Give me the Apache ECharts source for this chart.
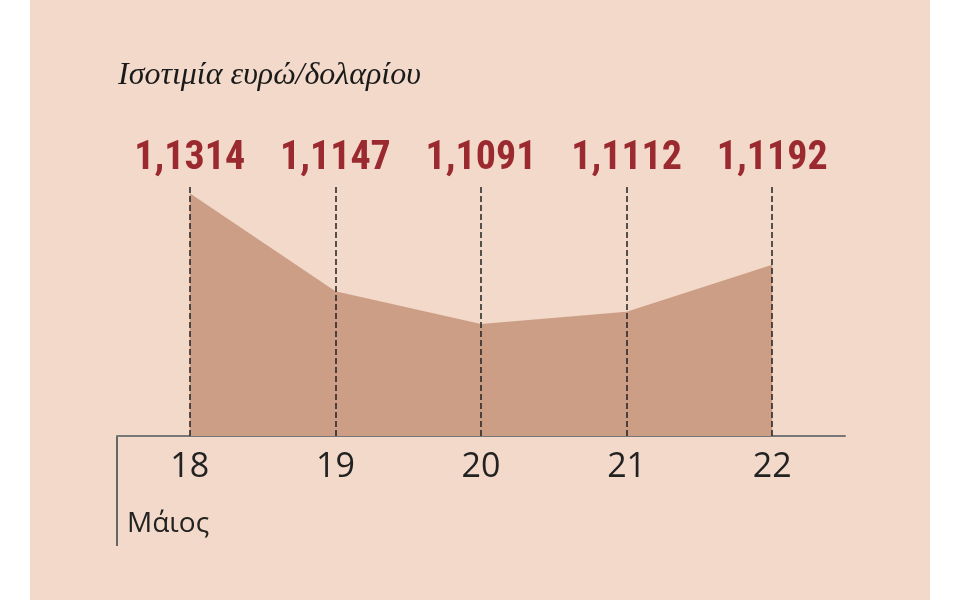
<!DOCTYPE html>
<html><head><meta charset="utf-8">
<script src="https://cdn.jsdelivr.net/npm/echarts@6/dist/echarts.min.js"></script>
<style>html,body{margin:0;background:#fff}#c{width:960px;height:600px}</style>
</head><body><div id="c"></div>
<script>
const categories = ['18','19','20','21','22'];
const values = [1.1314, 1.1147, 1.1091, 1.1112, 1.1192];
const title = 'Ισοτιμία ευρώ/δολαρίου';
const monthLabel = 'Μάιος';

const chart = echarts.init(document.getElementById('c'));
chart.setOption({
  backgroundColor: '#fff',
  graphic: [
    {type:'rect', z:-10, shape:{x:30,y:0,width:900,height:600}, style:{fill:'#f2d9c9'}},
    {type:'text', left:118, top:60, style:{text:title, font:'italic 32px "Liberation Serif", serif', fill:'#1a1a1a'}},
    {type:'line', shape:{x1:117,y1:436,x2:117,y2:546}, style:{stroke:'#666',lineWidth:2}},
    {type:'text', left:127, top:510, style:{text:monthLabel, font:'28px "Open Sans", sans-serif', fill:'#222'}}
  ],
  grid: {left:117, right:115, top:185, bottom:164},
  xAxis: [
    {type:'category', data:categories, boundaryGap:true,
     axisLine:{lineStyle:{color:'#777',width:2}},
     axisTick:{length:50, lineStyle:{color:'#777',width:2}},
     axisLabel:{fontSize:34, color:'#222', margin:14, fontFamily:'Open Sans'}},
    {type:'category', data:categories, position:'top', boundaryGap:true,
     axisLine:{show:false}, axisTick:{show:false},
     axisLabel:{margin:6, fontSize:40, fontWeight:'bold', color:'#9b2a30',
       fontFamily:'"Liberation Sans Narrow","Roboto Condensed",sans-serif',
       formatter:(v,i)=>values[i].toFixed(4).replace('.',',')}}
  ],
  yAxis: {type:'value', min:1.09, max:1.1328, show:false, splitLine:{show:false}},
  series: [{
    type:'line', data:values, symbol:'none',
    lineStyle:{width:0}, areaStyle:{color:'#cc9e85', opacity:1},
    markLine:{silent:true, symbol:'none', label:{show:false},
      lineStyle:{type:'dashed', color:'#222', width:1.5},
      data: categories.map(c=>({xAxis:c}))}
  }]
});
</script></body></html>
